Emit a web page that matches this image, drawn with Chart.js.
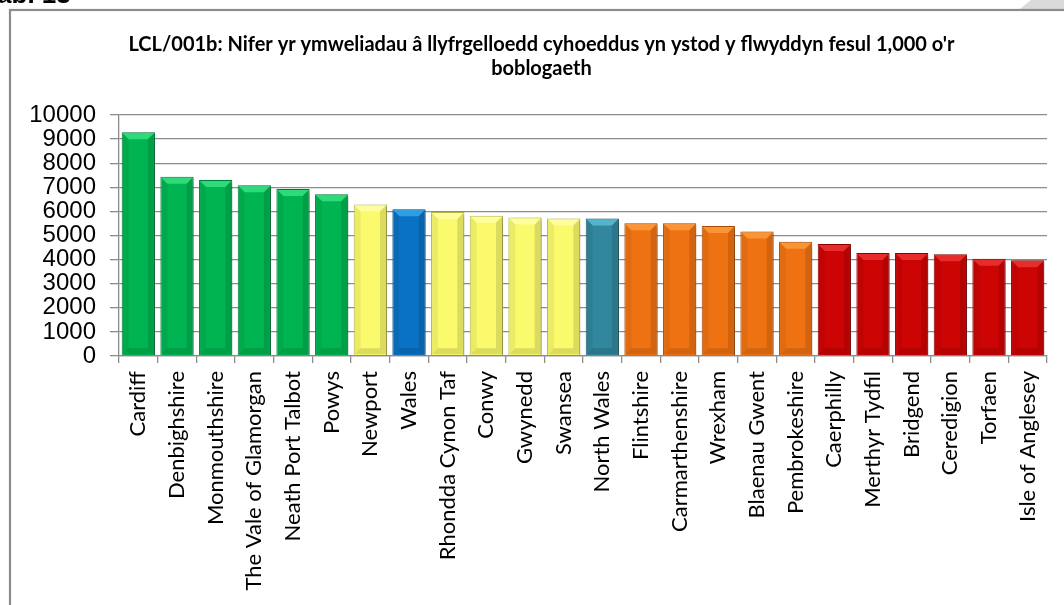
<!DOCTYPE html>
<html>
<head>
<meta charset="utf-8">
<script src="https://cdn.jsdelivr.net/npm/chart.js@4/dist/chart.umd.min.js"></script>
<style>
  html, body { margin: 0; padding: 0; background: #ffffff; }
  #wrap { position: relative; width: 1064px; height: 605px; }
</style>
</head>
<body>
<div id="wrap"><canvas id="c" width="1064" height="605"></canvas></div>
<script>
// ---- data ----
const categories = [
  "Cardiff", "Denbighshire", "Monmouthshire", "The Vale of Glamorgan", "Neath Port Talbot",
  "Powys", "Newport", "Wales", "Rhondda Cynon Taf", "Conwy", "Gwynedd", "Swansea",
  "North Wales", "Flintshire", "Carmarthenshire", "Wrexham", "Blaenau Gwent",
  "Pembrokeshire", "Caerphilly", "Merthyr Tydfil", "Bridgend", "Ceredigion", "Torfaen",
  "Isle of Anglesey"
];
const visitsPer1000 = [
  9280, 7440, 7300, 7080, 6930,
  6710, 6290, 6090, 5975, 5820, 5750, 5710,
  5710, 5505, 5505, 5395, 5170,
  4745, 4650, 4275, 4275, 4220, 4040,
  3970
];
// performance band of each category
const bands = [
  "top", "top", "top", "top", "top",
  "top", "upper", "wales", "upper", "upper", "upper", "upper",
  "north", "lower", "lower", "lower", "lower",
  "lower", "bottom", "bottom", "bottom", "bottom", "bottom",
  "bottom"
];
const yTicks = [0, 1000, 2000, 3000, 4000, 5000, 6000, 7000, 8000, 9000, 10000];
const titleLines = [
  "LCL/001b: Nifer yr ymweliadau â llyfrgelloedd cyhoeddus yn ystod y flwyddyn fesul 1,000 o'r",
  "boblogaeth"
];
const headerText = "Tab. 13";

// ---- styles ----
const bandFill = {
  top: "#00B451", upper: "#FAFA6C", wales: "#0A72C4", north: "#31879E",
  lower: "#EF7212", bottom: "#CC0404"
};
const bandEdge = {
  top: "#00803A", upper: "#B8B84A", wales: "#064F8A", north: "#1F5C6C",
  lower: "#A84E08", bottom: "#8A0202"
};
const bandLight = {
  top: "#3CE88A", upper: "#FFFFB0", wales: "#3AB0F0", north: "#5EC4DC",
  lower: "#FFA040", bottom: "#F03A3A"
};

const frameAndHeader = {
  id: "frameAndHeader",
  afterLayout(chart) {
    // centre the title inside the chart frame rather than the whole canvas
    if (chart.titleBlock) {
      chart.titleBlock.left = 36;
      chart.titleBlock.width = chart.titleBlock.right - 36;
    }
  },
  beforeDraw(chart) {
    const ctx = chart.ctx;
    ctx.save();
    ctx.fillStyle = "#ffffff";
    ctx.fillRect(0, 0, chart.width, chart.height);
    // top-right tab
    ctx.fillStyle = "#DADADA";
    ctx.beginPath();
    ctx.moveTo(1020, 9); ctx.lineTo(1031, 0); ctx.lineTo(1064, 0); ctx.lineTo(1064, 9);
    ctx.closePath(); ctx.fill();
    // header text (cut at top and left)
    ctx.fillStyle = "#000";
    ctx.font = "bold 26px 'Liberation Sans', Arial, sans-serif";
    ctx.textAlign = "left";
    ctx.textBaseline = "alphabetic";
    const tw = ctx.measureText("T").width;
    ctx.fillText(headerText, -tw - 1, 3);
    // frame
    ctx.strokeStyle = "#8C8C8C";
    ctx.lineWidth = 2.2;
    ctx.strokeRect(10, 10, 1200, 800);
    ctx.restore();
  }
};

const bevel = {
  id: "bevel",
  beforeDatasetsDraw(chart) {
    const ctx = chart.ctx;
    ctx.save();
    ctx.shadowColor = "rgba(0,0,0,0.25)";
    ctx.shadowBlur = 4;
    ctx.shadowOffsetX = 3;
    ctx.shadowOffsetY = 2;
  },
  afterDatasetsDraw(chart) {
    const ctx = chart.ctx;
    ctx.restore();
    const meta = chart.getDatasetMeta(0);
    ctx.save();
    meta.data.forEach((bar, i) => {
      const p = bar.getProps(["x", "y", "base", "width"], true);
      const l = p.x - p.width / 2 + 1, r = p.x + p.width / 2 - 1;
      const t = p.y + 1, b = p.base - 1;
      const d = 6;
      // top bevel highlight
      ctx.fillStyle = bandLight[bands[i]];
      ctx.globalAlpha = 0.75;
      ctx.beginPath();
      ctx.moveTo(l, t); ctx.lineTo(r, t); ctx.lineTo(r - d, t + d); ctx.lineTo(l + d, t + d);
      ctx.closePath(); ctx.fill();
      // side shading
      ctx.fillStyle = "#000";
      ctx.globalAlpha = 0.12;
      ctx.beginPath();
      ctx.moveTo(r, t); ctx.lineTo(r, b); ctx.lineTo(r - d, b - d); ctx.lineTo(r - d, t + d);
      ctx.closePath(); ctx.fill();
      ctx.globalAlpha = 0.06;
      ctx.beginPath();
      ctx.moveTo(l, t); ctx.lineTo(l, b); ctx.lineTo(l + d, b - d); ctx.lineTo(l + d, t + d);
      ctx.closePath(); ctx.fill();
      ctx.globalAlpha = 0.12;
      ctx.beginPath();
      ctx.moveTo(l, b); ctx.lineTo(r, b); ctx.lineTo(r - d, b - d); ctx.lineTo(l + d, b - d);
      ctx.closePath(); ctx.fill();
    });
    ctx.restore();
  }
};

new Chart(document.getElementById("c"), {
  type: "bar",
  data: {
    labels: categories,
    datasets: [{
      data: visitsPer1000,
      backgroundColor: bands.map(b => bandFill[b]),
      borderColor: bands.map(b => bandEdge[b]),
      borderWidth: 1,
      barPercentage: 0.86,
      categoryPercentage: 1.0
    }]
  },
  options: {
    responsive: false,
    animation: false,
    devicePixelRatio: 1,
    layout: { padding: { left: 0, right: 17, top: 0, bottom: 0 } },
    plugins: {
      legend: { display: false },
      tooltip: { enabled: false },
      title: {
        display: true,
        text: titleLines,
        color: "#000",
        font: { family: "Lato, 'Open Sans', sans-serif", size: 20, weight: "bold", lineHeight: 1.2 },
        padding: { top: 33, bottom: 34 }
      }
    },
    scales: {
      x: {
        grid: {
          drawOnChartArea: false, drawTicks: true, tickLength: 7,
          color: "#8C8C8C", lineWidth: 1.3, offset: true
        },
        border: { color: "#8C8C8C", width: 1.3 },
        ticks: {
          autoSkip: false, maxRotation: 90, minRotation: 90, padding: 8,
          color: "#000",
          font: { family: "Lato, 'Open Sans', sans-serif", size: 22 }
        },
        afterFit(scale) { scale.height = 249; }
      },
      y: {
        min: 0, max: 10000,
        afterBuildTicks(scale) { scale.ticks = yTicks.map(v => ({ value: v })); },
        grid: { color: "#8C8C8C", lineWidth: 1.3, drawTicks: true, tickLength: 9 },
        border: { color: "#8C8C8C", width: 1.3 },
        ticks: {
          autoSkip: false, padding: 14, color: "#000",
          font: { family: "'Liberation Sans', Arial, sans-serif", size: 24 },
          callback: v => String(v)
        },
        afterFit(scale) { scale.width = 119; }
      }
    }
  },
  plugins: [frameAndHeader, bevel]
});
</script>
</body>
</html>
